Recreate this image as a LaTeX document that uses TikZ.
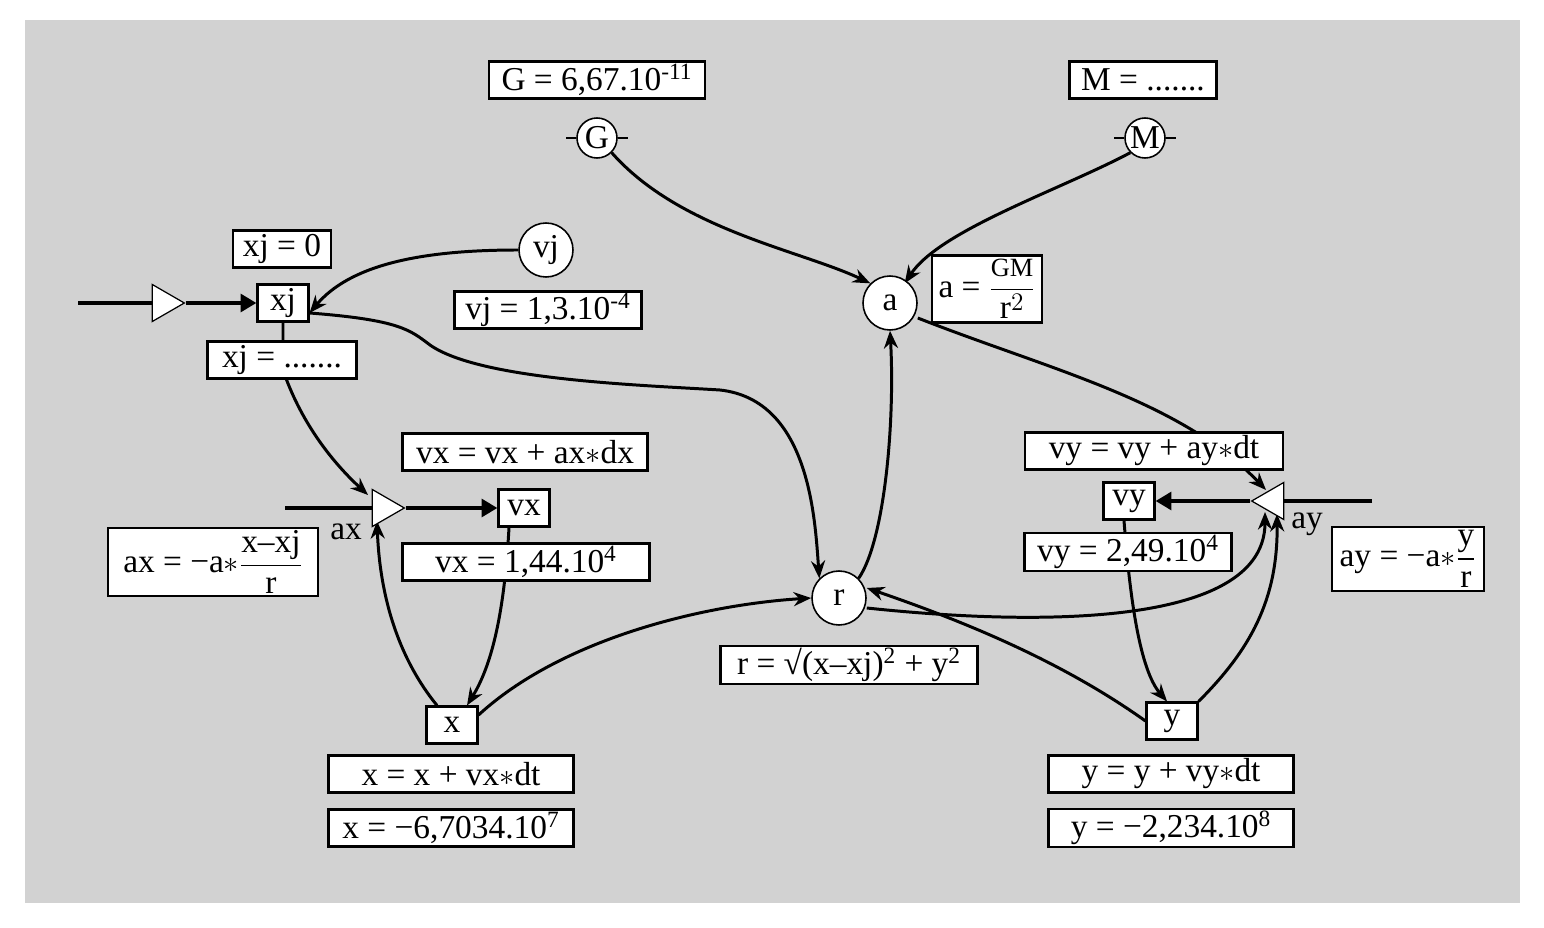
\documentclass[tikz,border=0pt]{standalone}
\usepackage{amsmath}
\usepackage{fontspec}
\setmainfont{Liberation Serif}
\usetikzlibrary{arrows.meta,shapes.geometric,backgrounds}
\tikzset{
  lbl/.style = {draw=black, fill=white, line width=1.2pt, inner sep=1pt,
    minimum height=0.74cm, font=\fontsize{19}{21}\selectfont},
  stock/.style = {lbl, minimum height=0.74cm, minimum width=1.02cm},
  aux/.style = {circle, draw=black, fill=white, line width=0.9pt, inner sep=0pt,
    minimum size=1.08cm, font=\fontsize{19}{21}\selectfont},
  cst/.style = {aux, minimum size=0.8cm},
  valve/.style = {isosceles triangle, isosceles triangle apex angle=60, draw=black,
    fill=white, line width=0.7pt, inner sep=0pt, minimum height=0.64cm},
  flow/.style = {line width=2.6pt, -{Triangle[length=9pt,width=10pt]}},
  link/.style = {line width=1.7pt, -{Stealth[length=10pt,width=8pt]}},
  txt/.style = {font=\fontsize{19}{21}\selectfont, inner sep=0pt}
}
\begin{document}
\begin{tikzpicture}[x=0.02cm,y=-0.02cm]
\useasboundingbox (0,0) rectangle (1544,928);
% stocks, auxiliaries, constants
\node [cst] (G) at (597,138) {G};
\node [cst] (M) at (1145,138) {M};
\node [aux] (a) at (890,303) {a};
\node [aux] (vj) at (546,250) {vj};
\node [aux] (r) at (839,598) {r};
\node [stock] (xj) at (283,303) {xj};
\node [stock] (vx) at (524,508) {vx};
\node [stock] (x) at (452,725) {x};
\node [stock] (vy) at (1129,501) {vy};
\node [stock] (y) at (1172,721) {y};
\node [valve] (vxv) at (383,508) {};
\node [valve] (xjv) at (163,303) {};
\node [valve, shape border rotate=180] (vyv) at (1273,501) {};
\node [txt] (axn) at (346,532) {ax};
\node [txt] (ayn) at (1307,524) {ay};
\coordinate (xjin) at (78,303);
\coordinate (vxin) at (285,508);
\coordinate (vyin) at (1372,501);
% small ticks on constants
\draw[line width=0.9pt] ([xshift=-0.2cm]G.west) -- (G.west) (G.east) -- ([xshift=0.2cm]G.east);
\draw[line width=0.9pt] ([xshift=-0.2cm]M.west) -- (M.west) (M.east) -- ([xshift=0.2cm]M.east);
% flows
\draw[line width=2.6pt] (xjin) -- (xjv.west);
\draw[flow] (xjv.apex) -- (xj.west);
\draw[line width=2.6pt] (vxin) -- (vxv.west);
\draw[flow] (vxv.apex) -- (vx.west);
\draw[line width=2.6pt] (vyin) -- (vyv.east);
\draw[flow] (vyv.apex) -- (vy.east);
% links
\begin{scope}[on background layer]
\fill[gray!35] (25,20) rectangle (1520,903);
\draw[link] (G.south east) .. controls (680,230) and (800,250) .. (a.north west);
\draw[link] (M.south west) .. controls (1060,190) and (940,230) .. ([xshift=-0.1cm]a.north east);
\draw[link] (vj.west) .. controls (420,250) and (350,265) .. ([yshift=-0.2cm]xj.east);
\draw[link] ([yshift=-0.2cm]xj.east) .. controls (400,320) and (410,330) .. (430,345)
  .. controls (480,380) and (640,385) .. (720,390)
  .. controls (810,400) and (815,520) .. (r.north west);
\draw[link] (xj.south) -- (283,370) .. controls (300,420) and (330,460) .. (368,495);
\draw[link] ([xshift=-0.3cm]vx.south) .. controls (505,600) and (495,660) .. ([xshift=0.3cm]x.north);
\draw[link] ([xshift=-0.3cm]x.north) .. controls (400,660) and (380,600) .. (377,521);
\draw[link] ([yshift=0.2cm]x.east) .. controls (560,640) and (700,605) .. (r.west);
\draw[link] (r.north east) .. controls (885,540) and (895,420) .. (a.south);
\draw[link] ([yshift=-0.3cm]a.east) .. controls (1050,370) and (1180,400) .. (1266,490);
\draw[link] ([yshift=-0.2cm]r.east) .. controls (980,620) and (1265,640) .. (1265,512);
\draw[link] (y.west) .. controls (1060,660) and (960,620) .. ([yshift=0.2cm]r.east);
\draw[link] ([xshift=-0.1cm]vy.south) .. controls (1130,600) and (1140,670) .. ([xshift=-0.1cm]y.north);
\draw[link] (y.north east) .. controls (1250,650) and (1278,600) .. (1277,514);
\end{scope}
% equations and values
\node [lbl, minimum width=4.32cm] (Geq) at (597,80) {G = 6,67.10\textsuperscript{-11}};
\node [lbl, minimum width=2.94cm] (Meq) at (1143,80) {M = .......};
\node [lbl, minimum width=2.2cm, minimum height=1.34cm] (aeq) at (987,289) {a = $\dfrac{\text{\fontsize{15}{16}\selectfont GM}}{\text{r}^{2}}$};
\node [lbl, minimum width=1.96cm] (xj0) at (282,249) {xj = 0};
\node [lbl, minimum width=3.74cm] (vjeq) at (548,310) {vj = 1,3.10\textsuperscript{-4}};
\node [lbl, minimum width=2.98cm] (xjeq) at (282,360) {xj = .......};
\node [lbl, minimum width=4.9cm] (vxeq) at (525,452) {vx = vx + ax$\ast$dx};
\node [lbl, minimum width=4.94cm] (vx0) at (526,562) {vx = 1,44.10\textsuperscript{4}};
\node [lbl, minimum width=4.2cm, minimum height=1.36cm] (axeq) at (213,562) {ax = −a$\ast$$\dfrac{\text{x–xj}}{\text{r}}$};
\node [lbl, minimum width=4.9cm] (xeq) at (451,774) {x = x + vx$\ast$dt};
\node [lbl, minimum width=4.9cm] (x0) at (451,828) {x = −6,7034.10\textsuperscript{7}};
\node [lbl, minimum width=5.14cm] (req) at (849,665) {r = √(x–xj)\textsuperscript{2} + y\textsuperscript{2}};
\node [lbl, minimum width=5.16cm] (vyeq) at (1154,451) {vy = vy + ay$\ast$dt};
\node [lbl, minimum width=4.14cm] (vy0) at (1128,552) {vy = 2,49.10\textsuperscript{4}};
\node [lbl, minimum width=3.04cm, minimum height=1.16cm, inner sep=2pt] (ayeq) at (1408,559) {ay = −a$\ast$$\dfrac{\text{y}}{\text{r}}$};
\node [lbl, minimum width=4.9cm] (yeq) at (1171,774) {y = y + vy$\ast$dt};
\node [lbl, minimum width=4.9cm] (y0) at (1171,828) {y = −2,234.10\textsuperscript{8}};
\end{tikzpicture}
\end{document}
